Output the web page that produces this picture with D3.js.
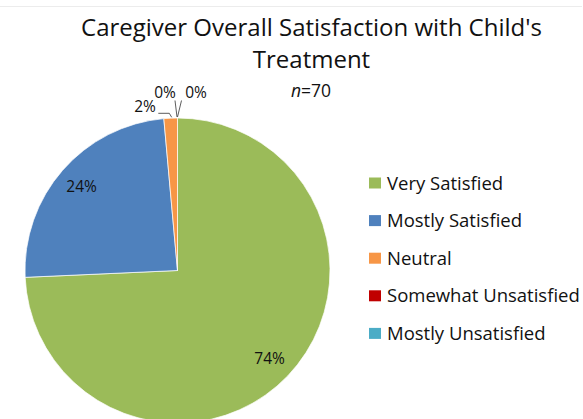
<!DOCTYPE html>
<html>
<head>
<meta charset="utf-8">
<script src="https://cdn.jsdelivr.net/npm/d3@7"></script>
<style>
  body { margin: 0; background: #fff; }
  svg { font-family: "Open Sans", "Noto Sans", sans-serif; }
</style>
</head>
<body>
<div id="root"></div>
<script>
const categories = ["Very Satisfied", "Mostly Satisfied", "Neutral", "Somewhat Unsatisfied", "Mostly Unsatisfied"]
const counts = [52, 17, 1, 0, 0]
const pctLabels = ["74%", "24%", "2%", "0%", "0%"]
const colors = ["#9BBB59", "#4F81BD", "#F79646", "#C00000", "#4BACC6"]
const titleLines = ["Caregiver Overall Satisfaction with Child's", "Treatment"]

const w = 583, h = 419
const cx = 177.5, cy = 270.5, r = 152.5
const total = d3.sum(counts)

const svg = d3.select("#root").append("svg")
    .attr("width", w)
    .attr("height", h)

// faint top border
svg.append("line")
    .attr("x1", 0).attr("x2", 582)
    .attr("y1", 6.5).attr("y2", 6.5)
    .attr("stroke", "#ececec")

// title
svg.selectAll("text.title").data(titleLines).enter().append("text")
    .attr("class", "title")
    .attr("x", 311.5)
    .attr("y", (d, i) => 36 + i * 32)
    .attr("text-anchor", "middle")
    .attr("font-size", 24)
    .attr("fill", "#111")
    .text(d => d)

const sub = svg.append("text")
    .attr("x", 311).attr("y", 97)
    .attr("text-anchor", "middle")
    .attr("font-size", 17.5)
    .attr("fill", "#111")
sub.append("tspan").attr("font-style", "italic").text("n")
sub.append("tspan").text("=" + total)

const data = categories.map((c, i) => ({cat: c, value: counts[i], color: colors[i], label: pctLabels[i]}))

const pie = d3.pie().sort(null).value(d => d.value)
const arcs = pie(data)
const arc = d3.arc().innerRadius(0).outerRadius(r)

const g = svg.append("g").attr("transform", `translate(${cx},${cy})`)

g.selectAll("path.slice").data(arcs.filter(d => d.value > 0)).enter().append("path")
    .attr("class", "slice")
    .attr("d", arc)
    .attr("fill", d => d.data.color)
    .attr("stroke", "#fff")
    .attr("stroke-width", 0.7)

// inside labels for the big slices
const labelArc = d3.arc().innerRadius(r * 0.835).outerRadius(r * 0.835)
g.selectAll("text.inlabel").data(arcs.filter(d => d.value / total > 0.1)).enter().append("text")
    .attr("class", "inlabel")
    .attr("font-size", 15.5)
    .attr("fill", "#111")
    .attr("text-anchor", "middle")
    .attr("dy", "0.35em")
    .attr("transform", d => `translate(${labelArc.centroid(d)})`)
    .text(d => d.data.label)

// small slice labels with leader lines
const small = arcs.filter(d => d.value / total <= 0.1)
const labelPos = [[-32.5, -158.5], [-12.5, -172.5], [18.5, -172.5]]
const lineEnds = [
    [[-19.2, -157.2], [-8.2, -157.2], [-5.8, -153.2]],
    [[-2.5, -170], [-0.5, -153.5]],
    [[4, -170], [0, -153.5]]
]

small.forEach((d, i) => {
    g.append("path")
        .attr("d", d3.line()(lineEnds[i]))
        .attr("fill", "none")
        .attr("stroke", "#333")
        .attr("stroke-width", 0.8)
    g.append("text")
        .attr("x", labelPos[i][0])
        .attr("y", labelPos[i][1])
        .attr("text-anchor", "middle")
        .attr("font-size", 15.5)
        .attr("fill", "#111")
        .text(d.data.label)
})

// legend
const legend = svg.selectAll("g.legend").data(data).enter().append("g")
    .attr("class", "legend")
    .attr("transform", (d, i) => `translate(369,${183 + i * 37.6})`)

legend.append("rect")
    .attr("x", 0).attr("y", -5.5)
    .attr("width", 12).attr("height", 11)
    .attr("fill", d => d.color)

legend.append("text")
    .attr("x", 18).attr("y", 6.5)
    .attr("font-size", 18.5)
    .attr("fill", "#111")
    .text(d => d.cat)
</script>
</body>
</html>
